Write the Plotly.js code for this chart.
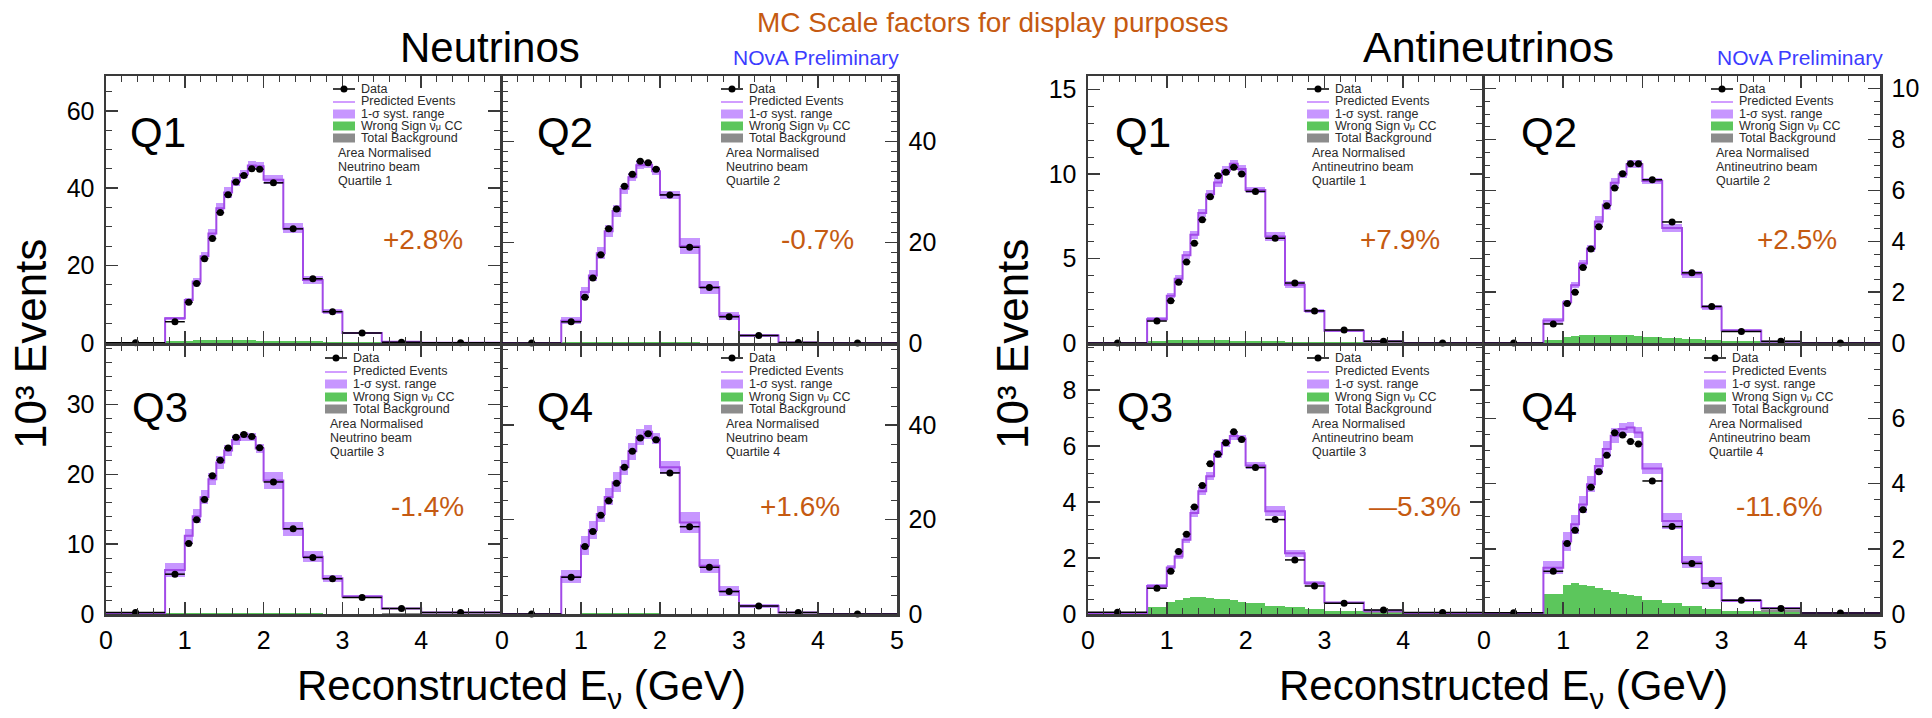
<!DOCTYPE html>
<html><head><meta charset="utf-8">
<script src="https://cdn.plot.ly/plotly-3.0.1.min.js"></script>
<style>html,body{margin:0;padding:0;background:#fff}#chart{width:1932px;height:718px}</style>
</head><body><div id="chart"></div>
<script>
// ---------------- DATA ----------------
const binEdges = [0, 0.75, 1.0, 1.1, 1.2, 1.3, 1.4, 1.5, 1.6, 1.7, 1.8, 1.9, 2.0, 2.25, 2.5, 2.75, 3.0, 3.5, 4.0, 5.0];

// Neutrino beam, quartiles 1-4 (10^3 events)
const nuQ1Data = [0.05, 5.5, 10.5, 15.4, 21.8, 27.0, 33.7, 38.3, 41.6, 43.3, 45.0, 44.9, 41.4, 29.5, 16.6, 8.1, 2.6, 0.2, 0.05];
const nuQ1Pred = [0, 6.4, 11.1, 15.9, 22.4, 28.3, 34.8, 38.9, 41.8, 43.6, 45.9, 45.7, 42.2, 29.6, 16.3, 8.1, 2.6, 0.3, 0.05];
const nuQ1Syst = [0, 0.4, 0.6, 0.8, 1.0, 1.2, 1.4, 1.3, 1.1, 1.0, 1.1, 1.0, 1.2, 1.3, 1.1, 0.6, 0.25, 0.05, 0];
const nuQ1WS   = [0, 0.4, 0.6, 0.7, 0.8, 0.8, 0.8, 0.8, 0.7, 0.7, 0.7, 0.6, 0.6, 0.5, 0.4, 0.3, 0.15, 0.05, 0];
const nuQ1Bg   = [0, 0.1, 0.1, 0.1, 0.1, 0.1, 0.1, 0.1, 0.1, 0.1, 0.1, 0.1, 0.1, 0.1, 0.1, 0.1, 0.1, 0.3, 0.05];

const nuQ2Data = [0, 4.2, 9.1, 12.9, 17.5, 22.7, 26.6, 31.1, 33.5, 36.1, 35.8, 34.5, 29.4, 19.0, 11.0, 5.2, 1.5, 0.1, 0];
const nuQ2Pred = [0, 4.4, 10.1, 13.4, 17.8, 22.2, 26.2, 30.6, 32.9, 35.3, 35.4, 34.1, 29.4, 19.2, 11.1, 5.4, 1.5, 0.1, 0];
const nuQ2Syst = [0, 0.7, 1.1, 1.1, 1.2, 1.2, 1.2, 1.0, 0.8, 0.8, 0.7, 0.8, 0.8, 1.6, 1.3, 0.8, 0.3, 0.05, 0];
const nuQ2WS   = [0, 0.15, 0.2, 0.2, 0.2, 0.2, 0.2, 0.2, 0.2, 0.2, 0.2, 0.2, 0.2, 0.15, 0.1, 0.1, 0.05, 0.02, 0];
const nuQ2Bg   = [0, 0.05, 0.05, 0.05, 0.05, 0.05, 0.05, 0.05, 0.05, 0.05, 0.05, 0.05, 0.05, 0.05, 0.05, 0.05, 0.05, 0.1, 0.02];

const nuQ3Data = [0.2, 5.7, 10.1, 13.5, 16.4, 19.8, 22.0, 23.75, 25.3, 25.7, 25.4, 23.8, 18.9, 12.2, 8.1, 5.05, 2.35, 0.8, 0.2];
const nuQ3Pred = [0, 6.3, 11.2, 14.0, 16.7, 19.3, 21.7, 23.4, 24.9, 25.4, 25.3, 23.7, 19.1, 12.2, 8.2, 5.1, 2.5, 0.8, 0.2];
const nuQ3Syst = [0, 1.0, 1.0, 1.0, 1.0, 0.9, 0.9, 0.8, 0.7, 0.6, 0.6, 0.6, 1.2, 1.0, 0.8, 0.5, 0.2, 0.1, 0];
const nuQ3WS   = [0, 0.1, 0.15, 0.15, 0.15, 0.15, 0.15, 0.15, 0.15, 0.15, 0.15, 0.15, 0.1, 0.1, 0.1, 0.05, 0.03, 0.02, 0];
const nuQ3Bg   = [0, 0.05, 0.05, 0.05, 0.05, 0.05, 0.05, 0.05, 0.05, 0.05, 0.05, 0.05, 0.05, 0.05, 0.05, 0.05, 0.05, 0.1, 0.05];

const nuQ4Data = [0, 7.8, 14.3, 17.5, 20.9, 24.0, 27.7, 31.1, 34.5, 37.3, 38.2, 36.9, 29.9, 18.5, 9.9, 4.75, 1.7, 0.3, 0];
const nuQ4Pred = [0, 7.9, 14.5, 17.8, 21.2, 24.8, 27.9, 31.1, 34.5, 37.5, 38.6, 37.2, 31.1, 19.4, 10.2, 4.9, 1.7, 0.3, 0];
const nuQ4Syst = [0, 1.4, 2.0, 1.9, 1.6, 1.8, 2.1, 1.6, 1.8, 1.6, 1.5, 1.2, 1.4, 2.3, 1.5, 1.0, 0.4, 0.1, 0];
const nuQ4WS   = [0, 0.1, 0.15, 0.15, 0.15, 0.15, 0.15, 0.15, 0.15, 0.15, 0.15, 0.15, 0.1, 0.1, 0.1, 0.05, 0.03, 0.02, 0];
const nuQ4Bg   = [0, 0.05, 0.05, 0.05, 0.05, 0.05, 0.05, 0.05, 0.05, 0.05, 0.05, 0.05, 0.05, 0.05, 0.05, 0.05, 0.05, 0.1, 0.02];

// Antineutrino beam, quartiles 1-4 (10^3 events)
const anuQ1Data = [0, 1.3, 2.5, 3.6, 4.8, 5.9, 7.3, 8.65, 9.9, 10.1, 10.4, 10.0, 8.97, 6.2, 3.55, 1.9, 0.77, 0.1, 0];
const anuQ1Pred = [0, 1.4, 2.8, 3.8, 5.2, 6.4, 7.7, 8.8, 9.5, 10.2, 10.6, 10.3, 9.05, 6.3, 3.45, 1.9, 0.73, 0.1, 0];
const anuQ1Syst = [0, 0.12, 0.15, 0.2, 0.25, 0.25, 0.25, 0.25, 0.25, 0.25, 0.25, 0.25, 0.2, 0.25, 0.2, 0.1, 0.05, 0.02, 0];
const anuQ1WS   = [0, 0.1, 0.15, 0.15, 0.15, 0.15, 0.15, 0.15, 0.15, 0.15, 0.14, 0.13, 0.12, 0.1, 0.08, 0.06, 0.04, 0.02, 0];
const anuQ1Bg   = [0, 0.03, 0.03, 0.03, 0.03, 0.03, 0.03, 0.03, 0.03, 0.03, 0.03, 0.03, 0.03, 0.03, 0.03, 0.03, 0.03, 0.1, 0.01];

const anuQ2Data = [0, 0.75, 1.55, 2.0, 2.97, 3.7, 4.57, 5.4, 6.1, 6.66, 7.05, 7.05, 6.42, 4.76, 2.76, 1.44, 0.45, 0.07, 0];
const anuQ2Pred = [0, 0.88, 1.6, 2.27, 3.13, 3.72, 4.78, 5.44, 6.3, 6.63, 7.03, 7.03, 6.37, 4.52, 2.7, 1.41, 0.49, 0.05, 0];
const anuQ2Syst = [0, 0.1, 0.1, 0.12, 0.15, 0.15, 0.2, 0.2, 0.2, 0.15, 0.15, 0.15, 0.12, 0.15, 0.15, 0.1, 0.05, 0.02, 0];
const anuQ2WS   = [0, 0.12, 0.22, 0.26, 0.3, 0.32, 0.32, 0.32, 0.32, 0.31, 0.3, 0.28, 0.25, 0.2, 0.15, 0.11, 0.07, 0.03, 0];
const anuQ2Bg   = [0, 0.02, 0.02, 0.02, 0.02, 0.02, 0.02, 0.02, 0.02, 0.02, 0.02, 0.02, 0.02, 0.02, 0.02, 0.02, 0.02, 0.05, 0.01];

const anuQ3Data = [0.06, 0.92, 1.53, 2.23, 2.85, 3.82, 4.59, 5.36, 5.7, 6.11, 6.5, 6.23, 5.23, 3.37, 1.93, 1.0, 0.38, 0.14, 0.05];
const anuQ3Pred = [0, 1.0, 1.66, 2.05, 2.65, 3.6, 4.38, 4.92, 5.7, 6.1, 6.35, 6.26, 5.3, 3.67, 2.17, 1.1, 0.41, 0.12, 0.03];
const anuQ3Syst = [0, 0.08, 0.1, 0.1, 0.12, 0.15, 0.15, 0.15, 0.15, 0.15, 0.15, 0.12, 0.12, 0.18, 0.12, 0.08, 0.03, 0.02, 0];
const anuQ3WS   = [0, 0.26, 0.44, 0.5, 0.56, 0.6, 0.6, 0.56, 0.55, 0.55, 0.5, 0.44, 0.38, 0.3, 0.25, 0.17, 0.11, 0.05, 0.01];
const anuQ3Bg   = [0, 0.02, 0.02, 0.02, 0.02, 0.02, 0.02, 0.02, 0.02, 0.02, 0.02, 0.02, 0.02, 0.02, 0.02, 0.02, 0.02, 0.1, 0.02];

const anuQ4Data = [0.04, 1.31, 2.16, 2.57, 3.2, 3.89, 4.36, 4.87, 5.56, 5.49, 5.29, 5.21, 4.08, 2.68, 1.55, 0.93, 0.42, 0.17, 0.03];
const anuQ4Pred = [0, 1.42, 2.22, 2.75, 3.36, 3.98, 4.54, 5.06, 5.47, 5.67, 5.72, 5.57, 4.46, 2.85, 1.59, 0.95, 0.41, 0.18, 0.03];
const anuQ4Syst = [0, 0.2, 0.3, 0.3, 0.25, 0.25, 0.25, 0.25, 0.23, 0.2, 0.18, 0.18, 0.18, 0.25, 0.18, 0.17, 0.05, 0.03, 0];
const anuQ4WS   = [0, 0.6, 0.9, 0.95, 0.88, 0.85, 0.8, 0.75, 0.68, 0.62, 0.57, 0.54, 0.44, 0.34, 0.24, 0.15, 0.1, 0.06, 0.02];
const anuQ4Bg   = [0, 0.02, 0.02, 0.02, 0.02, 0.02, 0.02, 0.02, 0.02, 0.02, 0.02, 0.02, 0.02, 0.02, 0.02, 0.02, 0.02, 0.12, 0.02];

// Text / tick labels
const quartileNames = ['Q1', 'Q2', 'Q3', 'Q4', 'Q1', 'Q2', 'Q3', 'Q4'];
const scaleFactors = ['+2.8%', '-0.7%', '-1.4%', '+1.6%', '+7.9%', '+2.5%', '\u20145.3%', '-11.6%'];
const beamNames = ['Neutrino beam', 'Neutrino beam', 'Neutrino beam', 'Neutrino beam',
                   'Antineutrino beam', 'Antineutrino beam', 'Antineutrino beam', 'Antineutrino beam'];
const quartileText = ['Quartile 1', 'Quartile 2', 'Quartile 3', 'Quartile 4', 'Quartile 1', 'Quartile 2', 'Quartile 3', 'Quartile 4'];
const legendLabels = ['Data', 'Predicted Events', '1-\u03c3 syst. range',
  'Wrong Sign \u03bd<span style="font-size:9px">\u03bc</span> CC', 'Total Background', 'Area Normalised'];
const nuQ1YTicks = [0, 20, 40, 60];
const nuQ2YTicks = [0, 20, 40];
const nuQ3YTicks = [0, 10, 20, 30];
const nuQ4YTicks = [0, 20, 40];
const anuQ1YTicks = [0, 5, 10, 15];
const anuQ2YTicks = [0, 2, 4, 6, 8, 10];
const anuQ3YTicks = [0, 2, 4, 6, 8];
const anuQ4YTicks = [0, 2, 4, 6];
const xTicksLeft = [0, 1, 2, 3, 4];
const xTicksRight = [0, 1, 2, 3, 4, 5];
const xAxisTitle = 'Reconstructed E<sub>\u03bd</sub> (GeV)';
const yAxisTitle = '10\u00b3 Events';

// ---------------- LAYOUT / STYLE ----------------
const W = 1932, H = 718;
const FONT = 'Liberation Sans, Arial, Helvetica, sans-serif';
const fx = p => p / W, fy = p => 1 - p / H;
const C = {frame: '#3a3a3a', pred: '#a24ae8', band: '#c796ff', ws: '#5cc65c', bg: '#8c8c8c', orange: '#c55a11', blue: '#3c3cff'};

const series = [
  [nuQ1Data, nuQ1Pred, nuQ1Syst, nuQ1WS, nuQ1Bg, nuQ1YTicks],
  [nuQ2Data, nuQ2Pred, nuQ2Syst, nuQ2WS, nuQ2Bg, nuQ2YTicks],
  [nuQ3Data, nuQ3Pred, nuQ3Syst, nuQ3WS, nuQ3Bg, nuQ3YTicks],
  [nuQ4Data, nuQ4Pred, nuQ4Syst, nuQ4WS, nuQ4Bg, nuQ4YTicks],
  [anuQ1Data, anuQ1Pred, anuQ1Syst, anuQ1WS, anuQ1Bg, anuQ1YTicks],
  [anuQ2Data, anuQ2Pred, anuQ2Syst, anuQ2WS, anuQ2Bg, anuQ2YTicks],
  [anuQ3Data, anuQ3Pred, anuQ3Syst, anuQ3WS, anuQ3Bg, anuQ3YTicks],
  [anuQ4Data, anuQ4Pred, anuQ4Syst, anuQ4WS, anuQ4Bg, anuQ4YTicks]
];
// panel geometry (pixels)
const geom = [
  {l:106, r:500, t:76, b:343, ymax:69, ymin:5, side:'left', row:0, xt:null, qx:158, px:423, legX:227},
  {l:502, r:897, t:76, b:343, ymax:53, ymin:2, side:'right', row:0, xt:null, qx:565, px:817, legX:219},
  {l:106, r:500, t:345, b:614, ymax:38.5, ymin:2, side:'left', row:1, xt:xTicksLeft, qx:160, px:427, legX:219},
  {l:502, r:897, t:345, b:614, ymax:57, ymin:4, side:'right', row:1, xt:xTicksRight, qx:565, px:800, legX:219},
  {l:1088, r:1482, t:76, b:343, ymax:15.8, ymin:1, side:'left', row:0, xt:null, qx:1143, px:1400, legX:219},
  {l:1484, r:1880, t:76, b:343, ymax:10.5, ymin:0.5, side:'right', row:0, xt:null, qx:1549, px:1797, legX:227},
  {l:1088, r:1482, t:345, b:614, ymax:9.6, ymin:0.5, side:'left', row:1, xt:xTicksLeft, qx:1145, px:1415, legX:219},
  {l:1484, r:1880, t:345, b:614, ymax:8.25, ymin:0.5, side:'right', row:1, xt:xTicksRight, qx:1549, px:1779, legX:220}
];
const legRows = [[89, 101, 114, 126, 138, 153, 167, 181], [358, 371, 384, 397, 409, 424, 438, 452]];

const centers = binEdges.slice(0, -1).map((e, i) => (e + binEdges[i + 1]) / 2);
const widths = binEdges.slice(0, -1).map((e, i) => binEdges[i + 1] - e);
const halfW = widths.map(w => w / 2);

const traces = [];
const layout = {
  width: W, height: H, margin: {l: 0, r: 0, t: 0, b: 0, pad: 0},
  paper_bgcolor: '#fff', plot_bgcolor: '#fff', showlegend: false,
  barmode: 'overlay', bargap: 0, font: {family: FONT, color: '#000'},
  annotations: [], shapes: []
};
const ann = (text, x, y, size, color, o) => layout.annotations.push(Object.assign({
  text, x: fx(x), y: fy(y), xref: 'paper', yref: 'paper', showarrow: false,
  xanchor: 'center', yanchor: 'middle', font: {family: FONT, size, color}
}, o || {}));

series.forEach((s, i) => {
  const [dat, pred, syst, ws, bg, yt] = s;
  const g = geom[i];
  const sfx = i ? String(i + 1) : '';
  const xid = 'x' + sfx, yid = 'y' + sfx;
  const common = {xaxis: xid, yaxis: yid, hoverinfo: 'skip'};
  traces.push(Object.assign({type: 'bar', x: centers, y: bg, width: widths, marker: {color: C.bg, line: {width: 0}}}, common));
  traces.push(Object.assign({type: 'bar', x: centers, y: ws, width: widths, marker: {color: C.ws, line: {width: 0}}}, common));
  traces.push(Object.assign({type: 'bar', x: centers, base: pred.map((p, k) => p - syst[k]), y: syst.map(v => 2 * v),
    width: widths, marker: {color: C.band, line: {width: 0}}}, common));
  traces.push(Object.assign({type: 'scatter', mode: 'lines', x: binEdges, y: pred.concat([pred[pred.length - 1]]),
    line: {shape: 'hv', color: C.pred, width: 2}}, common));
  traces.push(Object.assign({type: 'scatter', mode: 'markers', x: centers, y: dat, cliponaxis: false,
    marker: {color: '#000', size: 7},
    error_x: {type: 'data', array: halfW, visible: true, color: '#000', thickness: 1.5, width: 0}}, common));

  const tickBase = {
    showline: true, linecolor: C.frame, linewidth: 2.5, mirror: 'ticks',
    ticks: 'inside', ticklen: 12, tickwidth: 1.5, tickcolor: C.frame,
    showgrid: false, zeroline: false, fixedrange: true,
    tickfont: {family: FONT, size: 25, color: '#000'}
  };
  layout['xaxis' + sfx] = Object.assign({}, tickBase, {
    domain: [fx(g.l), fx(g.r)], anchor: yid, range: [0, 5],
    tickmode: 'array', tickvals: g.xt || xTicksRight, ticktext: (g.xt || xTicksRight).map(String),
    showticklabels: !!g.xt, ticklabelstandoff: 2,
    minor: {tickmode: 'linear', tick0: 0, dtick: 0.2, ticks: 'inside', ticklen: 6, tickwidth: 1, tickcolor: C.frame}
  });
  layout['yaxis' + sfx] = Object.assign({}, tickBase, {
    domain: [fy(g.b), fy(g.t)], anchor: xid, range: [0, g.ymax], side: g.side,
    tickmode: 'array', tickvals: yt, ticktext: yt.map(String), ticklabelstandoff: 4,
    minor: {tickmode: 'linear', tick0: 0, dtick: g.ymin, ticks: 'inside', ticklen: 6, tickwidth: 1, tickcolor: C.frame}
  });

  // Panel labels
  ann(quartileNames[i], g.qx, g.row ? 407 : 132, 42, '#000');
  ann(scaleFactors[i], g.px, g.row ? 506 : 239, 28, C.orange);

  // Legend block
  const rows = legRows[g.row];
  const sx0 = g.l + g.legX, sx1 = sx0 + 22, tx = sx0 + 26;
  const lf = 12.5, lc = '#2a2a2a';
  layout.shapes.push({type: 'line', xref: 'paper', yref: 'paper', x0: fx(sx0), x1: fx(sx1), y0: fy(rows[0]), y1: fy(rows[0]), line: {color: '#000', width: 1.5}});
  layout.shapes.push({type: 'circle', xref: 'paper', yref: 'paper', x0: fx((sx0 + sx1) / 2 - 3.5), x1: fx((sx0 + sx1) / 2 + 3.5), y0: fy(rows[0] + 3.5), y1: fy(rows[0] - 3.5), fillcolor: '#000', line: {width: 0}});
  layout.shapes.push({type: 'line', xref: 'paper', yref: 'paper', x0: fx(sx0), x1: fx(sx1), y0: fy(rows[1] + 1), y1: fy(rows[1] + 1), line: {color: '#c27dff', width: 1.5}});
  [C.band, C.ws, C.bg].forEach((col, k) => {
    const cy = rows[2 + k];
    layout.shapes.push({type: 'rect', xref: 'paper', yref: 'paper', x0: fx(sx0), x1: fx(sx1), y0: fy(cy + 4.5), y1: fy(cy - 4.5), fillcolor: col, line: {width: 0}});
  });
  for (let k = 0; k < 5; k++) ann(legendLabels[k], tx, rows[k], lf, lc, {xanchor: 'left'});
  ann(legendLabels[5], sx0 + 3, rows[5], lf, lc, {xanchor: 'left'});
  ann(beamNames[i], sx0 + 3, rows[6], lf, lc, {xanchor: 'left'});
  ann(quartileText[i], sx0 + 3, rows[7], lf, lc, {xanchor: 'left'});
});

// Global texts
ann('Neutrinos', 490, 47, 42, '#000');
ann('Antineutrinos', 1488, 47, 43, '#000');
ann('MC Scale factors for display purposes', 993, 23, 28, C.orange);
ann('NOvA Preliminary', 901, 57, 21, C.blue, {xanchor: 'right'});
ann('NOvA Preliminary', 1885, 57, 21, C.blue, {xanchor: 'right'});
ann(yAxisTitle, 30, 344, 44, '#000', {textangle: -90});
ann(yAxisTitle, 1012, 344, 44, '#000', {textangle: -90});
ann(xAxisTitle, 521, 688, 42, '#000');
ann(xAxisTitle, 1503, 688, 42, '#000');

Plotly.newPlot('chart', traces, layout, {staticPlot: true, displayModeBar: false});
</script>
</body></html>
